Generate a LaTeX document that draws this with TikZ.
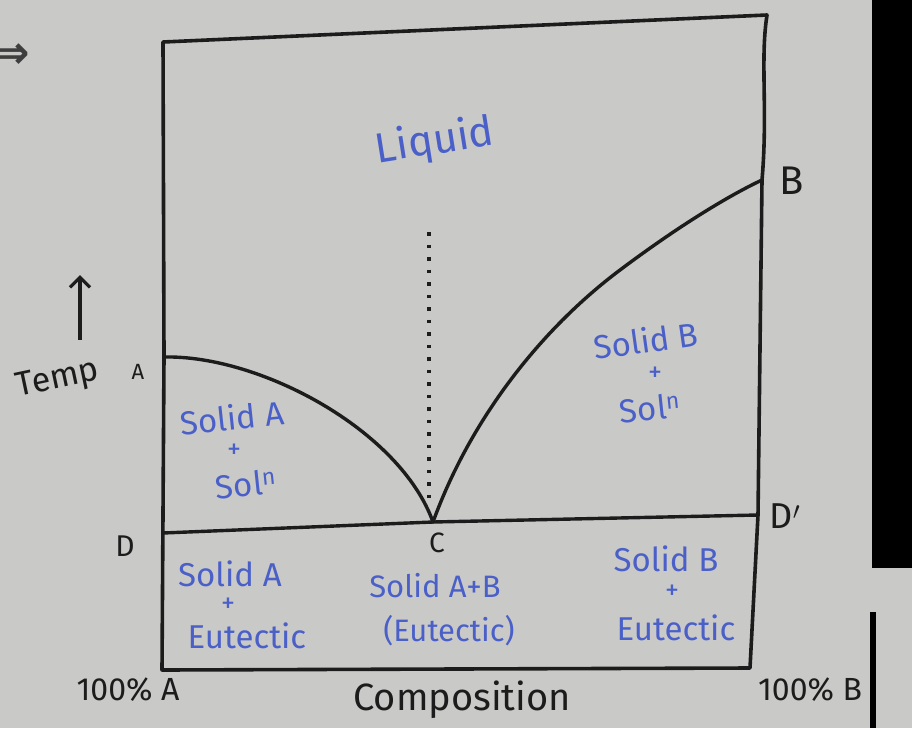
\documentclass[tikz,border=0pt]{standalone}
\usepackage{fontspec}
\usetikzlibrary{arrows.meta}
\setmainfont{Fira Sans}
\newfontfamily\symfont{DejaVu Sans}
\definecolor{bg}{RGB}{201,201,199}
\definecolor{ink}{RGB}{28,28,28}
\definecolor{pen}{RGB}{74,96,200}
\tikzset{
  border/.style={draw=ink, line width=3.6pt, line join=round, line cap=round},
  curveline/.style={draw=ink, line width=3.4pt, line cap=round},
  bluelbl/.style={text=pen, font=\fontsize{33}{33}\selectfont, inner sep=0pt},
  plussign/.style={text=pen, font=\fontsize{28}{28}\selectfont, inner sep=0pt},
  blacklbl/.style={text=ink, font=\fontsize{34}{36}\selectfont, inner sep=0pt},
}
\begin{document}
\begin{tikzpicture}[x=1pt,y=-1pt]
\clip (0,0) rectangle (912,728);
\fill[bg] (0,0) rectangle (912,728);
\useasboundingbox (0,0) rectangle (912,728);
% photo edge artefacts
\fill[black] (872,0) rectangle (912,568);
\fill[black] (870,612) rectangle (876,728);
% named corners
\coordinate (tl) at (163,42);
\coordinate (tr) at (767,15);
\coordinate (B) at (762,180);
\coordinate (Dp) at (758,515);
\coordinate (br) at (750,668);
\coordinate (bl) at (162,670);
\coordinate (A) at (164,357);
\coordinate (D) at (163,533);
\coordinate (C) at (433,522);
\coordinate (dtop) at (429,232);
\coordinate (dbot) at (429,505);
% outer box
\draw[border] (A) -- (tl) -- (tr) .. controls (760,60) and (768,110) .. (B) -- (Dp);
\draw[border] (Dp) -- (br) -- (bl) -- (A);
% eutectic line
\draw[curveline] (D) -- (C) -- (Dp);
% liquidus curves
\draw[curveline] (A) .. controls (260,355) and (400,430) .. (C);
\draw[curveline] (C) .. controls (470,420) and (540,330) .. (620,270) .. controls (680,225) and (730,195) .. (B);
% dotted line
\draw[ink, line width=3.2pt, dash pattern=on 3.5pt off 9pt] (dtop) -- (dbot);
% arrows at left
\node[text=ink!85, font=\symfont\bfseries\fontsize{46}{46}\selectfont, inner sep=0pt, anchor=east] (dbl) at (30,56) {⇒};
\coordinate (ta) at (80,340);
\coordinate (tb) at (80,275);
\draw[ink, line width=3.2pt, -{Straight Barb[length=10pt,width=20pt]}] (ta) -- (tb);
% black labels
\node[blacklbl, font=\fontsize{34}{34}\selectfont, rotate=12] (temp) at (58,380) {Temp};
\node[blacklbl, font=\fontsize{22}{22}\selectfont] (la) at (138,372) {A};
\node[blacklbl, font=\fontsize{40}{40}\selectfont] (lb) at (792,181) {B};
\node[blacklbl, font=\fontsize{36}{36}\selectfont] (ldp) at (785,516) {D$'$};
\node[blacklbl, font=\fontsize{30}{30}\selectfont] (ld) at (125,546) {D};
\node[blacklbl, font=\fontsize{28}{28}\selectfont] (lc) at (437,543) {C};
\node[blacklbl, font=\fontsize{32}{32}\selectfont] (l100a) at (128,690) {100\% A};
\node[blacklbl, font=\fontsize{38}{38}\selectfont] (lcomp) at (462,700) {Composition};
\node[blacklbl, font=\fontsize{32}{32}\selectfont] (l100b) at (810,690) {100\% B};
% blue labels
\node[bluelbl, font=\fontsize{42}{42}\selectfont, rotate=9] (liq) at (435,142) {Liquid};
\node[bluelbl, rotate=6] (sas1) at (232,417) {Solid A};
\node[plussign] (sas2) at (234,451) {+};
\node[bluelbl, rotate=6] (sas3) at (246,484) {Sol\textsuperscript{n}};
\node[bluelbl, rotate=8] (sbs1) at (646,340) {Solid B};
\node[plussign] (sbs2) at (655,374) {+};
\node[bluelbl, rotate=6] (sbs3) at (650,408) {Sol\textsuperscript{n}};
\node[bluelbl] (sae1) at (230,574) {Solid A};
\node[plussign] (sae2) at (228,605) {+};
\node[bluelbl] (sae3) at (247,636) {Eutectic};
\node[bluelbl, font=\fontsize{31}{31}\selectfont] (sab1) at (435,586) {Solid A+B};
\node[bluelbl, font=\fontsize{31}{31}\selectfont] (sab2) at (449,631) {(Eutectic)};
\node[bluelbl] (sbe1) at (666,559) {Solid B};
\node[plussign] (sbe2) at (672,592) {+};
\node[bluelbl] (sbe3) at (676,628) {Eutectic};
\end{tikzpicture}
\end{document}
